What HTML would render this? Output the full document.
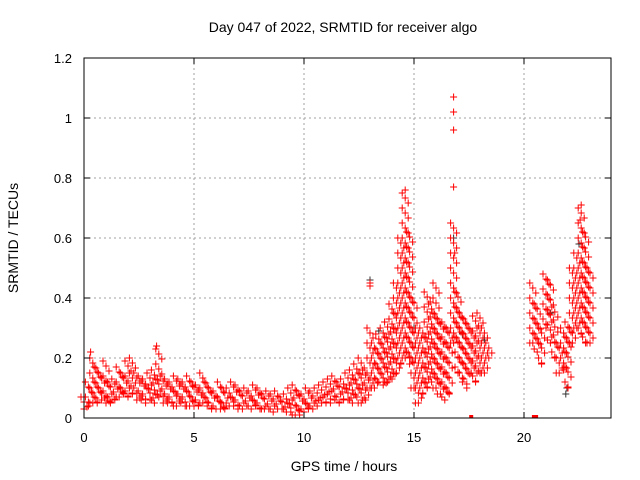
<!DOCTYPE html>
<html><head><meta charset="utf-8"><style>
body{margin:0;background:#fff}
svg{display:block;font-family:"Liberation Sans",sans-serif;font-size:13px}
</style></head><body>
<svg id="chart" width="640" height="480" viewBox="0 0 640 480">
<text x="343" y="32" text-anchor="middle" font-size="14">Day 047 of 2022, SRMTID for receiver algo</text>
<text x="344" y="471" text-anchor="middle" font-size="14">GPS time / hours</text>
<text transform="translate(18,238) rotate(-90)" text-anchor="middle" font-size="14">SRMTID / TECUs</text>
<g id="grid"></g>
<g id="marks"></g>
<rect x="84" y="58" width="527" height="360" fill="none" stroke="#000" stroke-width="1"/>
<g id="ticks"></g>
</svg>
<script>
const xTicks=[0,5,10,15,20];
const yTicks=[0,0.2,0.4,0.6,0.8,1,1.2];
const yTickLabels=["0","0.2","0.4","0.6","0.8","1","1.2"];
const times=[0,0.2,0.4,0.6,0.8,1,1.2,1.4,1.6,1.8,2,2.2,2.4,2.6,2.8,3,3.2,3.4,3.6,3.8,4,4.2,4.4,4.6,4.8,5,5.2,5.4,5.6,5.8,6,6.2,6.4,6.6,6.8,7,7.2,7.4,7.6,7.8,8,8.2,8.4,8.6,8.8,9,9.2,9.4,9.6,9.8,10,10.2,10.4,10.6,10.8,11,11.2,11.4,11.6,11.8,12,12.2,12.4,12.6,12.8,13,13.2,13.4,13.6,13.8,14,14.2,14.4,14.6,14.8,15,15.2,15.4,15.6,15.8,16,16.2,16.4,16.6,16.8,17,17.2,17.4,17.6,17.8,18,18.2,18.4,20.4,20.6,20.8,21,21.2,21.4,21.6,21.8,22,22.2,22.4,22.6,22.8,23];
const lowVals=[.03,.04,.05,.05,.06,.05,.05,.06,.07,.08,.07,.08,.06,.06,.05,.06,.05,.07,.05,.05,.05,.04,.05,.04,.04,.04,.04,.05,.04,.03,.03,.03,.03,.04,.04,.03,.03,.04,.03,.04,.03,.03,.03,.02,.03,.03,.02,.02,.01,.01,.02,.03,.03,.04,.05,.05,.05,.06,.05,.06,.06,.05,.07,.05,.06,.1,.1,.12,.11,.12,.13,.15,.18,.2,.18,.1,.05,.08,.1,.12,.1,.08,.06,.08,.25,.15,.12,.1,.15,.12,.15,.15,.2,.25,.22,.18,.3,.25,.2,.15,.16,.1,.25,.3,.28,.25,.25];
const highVals=[.07,.12,.2,.17,.15,.19,.12,.13,.17,.15,.19,.2,.15,.14,.13,.15,.16,.23,.14,.13,.12,.14,.13,.12,.14,.12,.11,.15,.12,.1,.09,.12,.1,.1,.12,.11,.09,.1,.09,.11,.1,.08,.09,.08,.09,.07,.08,.1,.11,.09,.08,.1,.09,.1,.11,.12,.13,.14,.12,.13,.15,.16,.18,.2,.16,.3,.25,.28,.3,.32,.38,.45,.6,.75,.62,.4,.3,.3,.42,.38,.45,.33,.32,.3,.65,.42,.35,.33,.3,.34,.35,.3,.25,.45,.38,.3,.48,.46,.37,.25,.3,.32,.5,.55,.7,.62,.5];
const extraT=[16.8,16.8,16.8,16.8,16.85,13,13,14.6,22.6,22.55,0.3,3.3];
const extraV=[1.07,1.02,.96,.77,.55,.45,.44,.76,.71,.66,.22,.24];
const blackT=[13,21.9,21.95,22.5,16.8,15,17.2,18.2,21.2,13.4];
const blackV=[.46,.08,.1,.58,.6,.3,.28,.26,.35,.29];
const zeroT=[17.6,20.45,20.55];
const zeroV=[0,0,0];
const X=t=>84+t*22, Y=v=>418-v*300;
const NS="http://www.w3.org/2000/svg";
const grid=document.getElementById('grid'),marks=document.getElementById('marks'),ticks=document.getElementById('ticks');
function mk(tag,attrs,parent){const e=document.createElementNS(NS,tag);for(const k in attrs)e.setAttribute(k,attrs[k]);parent.appendChild(e);return e;}
xTicks.forEach(t=>{
 if(t>0){const g=mk('line',{x1:X(t),x2:X(t),y1:58,y2:418,stroke:'#a0a0a0','stroke-dasharray':'2,3'},grid);
 
 }
 mk('line',{x1:X(t),x2:X(t),y1:418,y2:412,stroke:'#000'},ticks);
 mk('line',{x1:X(t),x2:X(t),y1:58,y2:64,stroke:'#000'},ticks);
 const l=mk('text',{x:X(t),y:442,'text-anchor':'middle'},ticks);l.textContent=t;
 
 
});
yTicks.forEach((v,i)=>{
 if(v>0&&v<1.2){const g=mk('line',{x1:84,x2:611,y1:Y(v),y2:Y(v),stroke:'#a0a0a0','stroke-dasharray':'2,3'},grid);
 
 }
 mk('line',{x1:84,x2:90,y1:Y(v),y2:Y(v),stroke:'#000'},ticks);
 mk('line',{x1:611,x2:605,y1:Y(v),y2:Y(v),stroke:'#000'},ticks);
 const l=mk('text',{x:72,y:Y(v)+5,'text-anchor':'end'},ticks);l.textContent=yTickLabels[i];
 
 
});
let d='';
function plus(x,y){d+=`M${x-3.5},${y}h7M${x},${y-3.5}v7`;}
times.forEach((t,i)=>{
 const y1=Y(highVals[i]),y0=Y(lowVals[i]);
 let k=0;
 for(let y=y1;y<=y0;y+=5){plus(X(t)+((k%3)-1)*3,y);k++;}
 plus(X(t),y0);
});
extraT.forEach((t,i)=>plus(X(t),Y(extraV[i])));
let db='';
blackT.forEach((t,i)=>{const x=X(t),y=Y(blackV[i]);db+=`M${x-3.5},${y}h7M${x},${y-3.5}v7`;});
const pb=mk('path',{d:db,stroke:'#333',fill:'none','stroke-width':1},marks);


const pr=mk('path',{d:d,stroke:'#f00',fill:'none','stroke-width':1},marks);


zeroT.forEach((t,i)=>{const r=mk('rect',{x:X(t)-2,y:Y(zeroV[i])-3,width:4,height:3,fill:'#f00'},marks);
 
 });
</script>
</body></html>
